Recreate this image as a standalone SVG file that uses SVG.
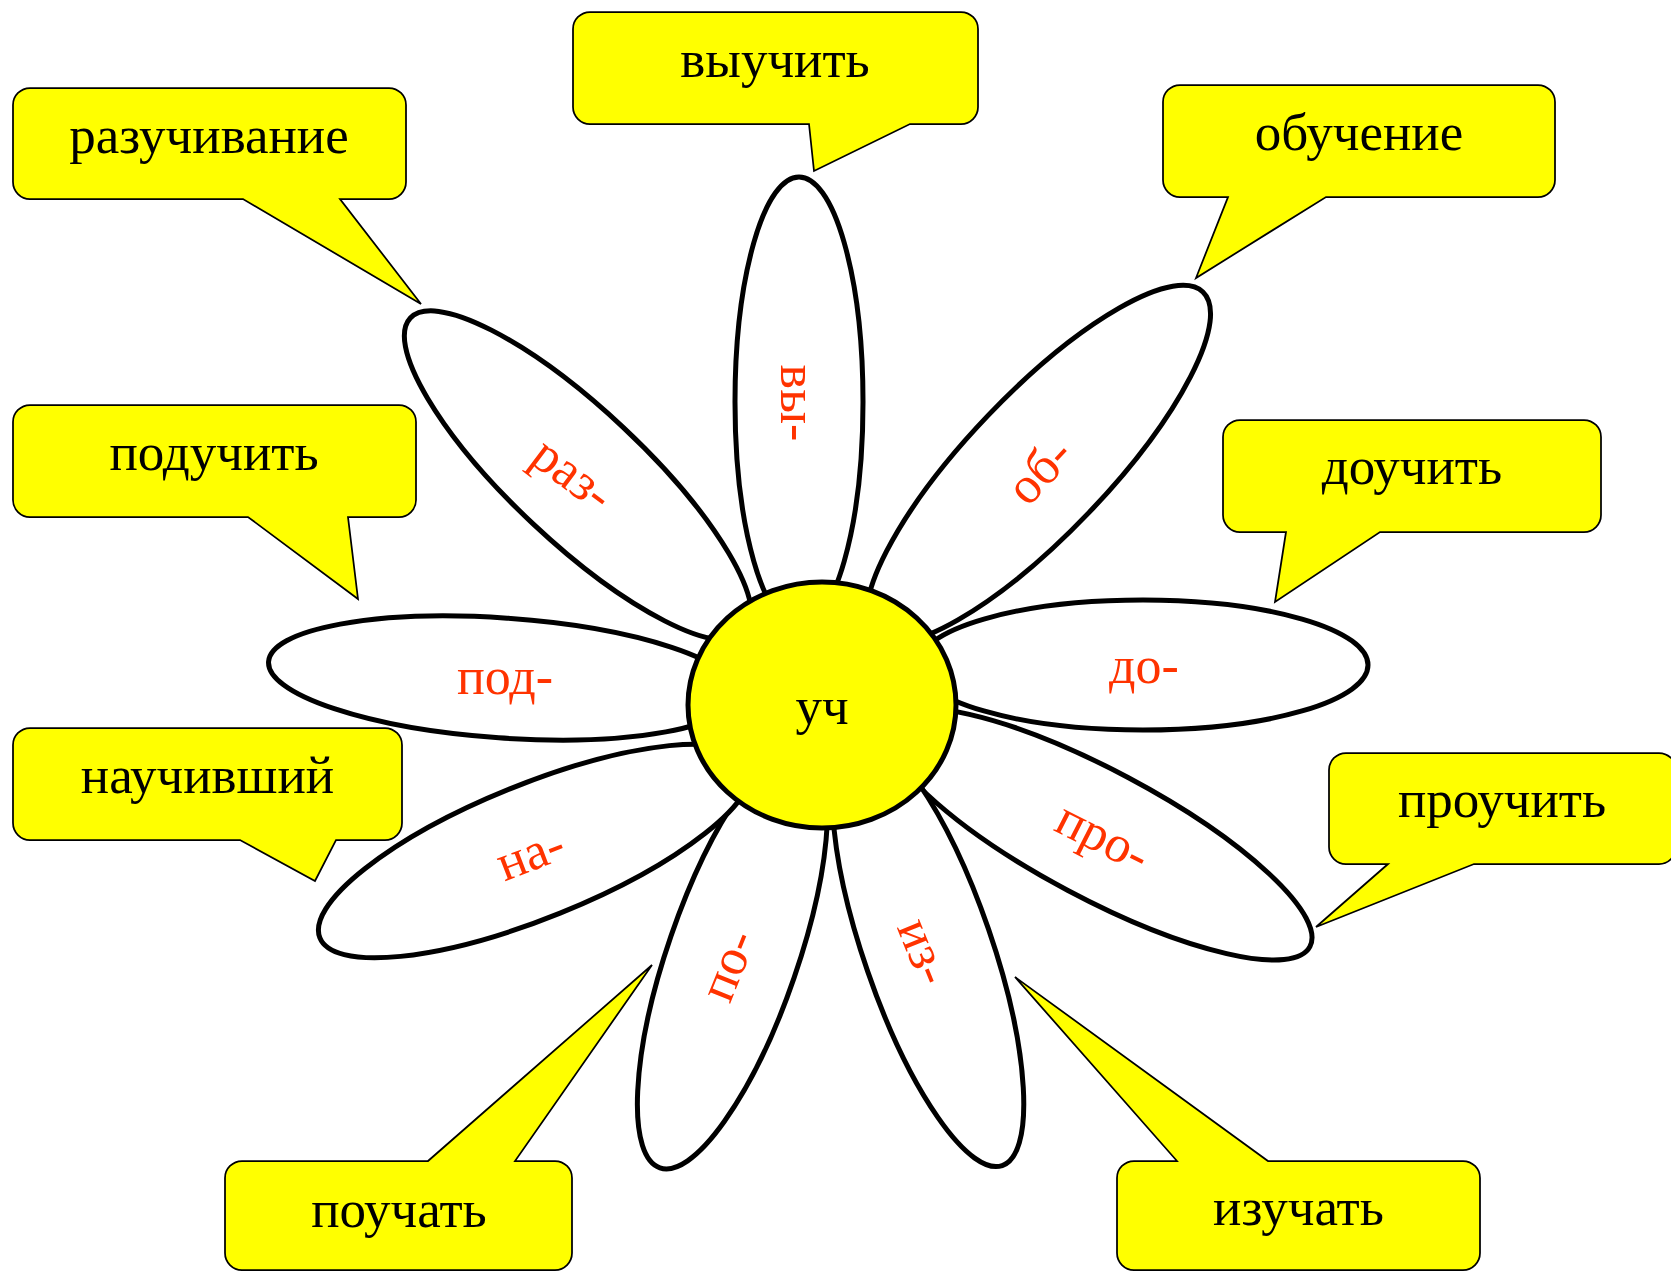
<svg xmlns="http://www.w3.org/2000/svg" width="1671" height="1272" viewBox="0 0 1671 1272">
<style>
.petal{fill:#ffffff;stroke:#000000;stroke-width:5}
.core{fill:#ffff00;stroke:#000000;stroke-width:5}
.callout{fill:#ffff00;stroke:#000000;stroke-width:1.75;stroke-linejoin:miter}
.lbl{font-family:"Liberation Serif","Times New Roman",serif;font-size:53px;fill:#000000;text-anchor:middle}
.pre{font-family:"Liberation Serif","Times New Roman",serif;font-size:52px;fill:#ff3300;text-anchor:middle}
</style>
<rect width="1671" height="1272" fill="#ffffff"/>
<g id="petals">
<g id="petal-raz"><ellipse class="petal" cx="578" cy="475.5" rx="230" ry="66" transform="rotate(43.2 578 475.5)"/><text class="pre" transform="translate(570,478) rotate(37)" y="12">раз-</text></g>
<g id="petal-vy"><ellipse class="petal" cx="799" cy="402" rx="64" ry="225"/><text class="pre" transform="translate(793,403) rotate(90)" y="12">вы-</text></g>
<g id="petal-ob"><ellipse class="petal" cx="1038.5" cy="464" rx="238" ry="70" transform="rotate(-46.3 1038.5 464)"/><text class="pre" transform="translate(1043,474) rotate(-47)" y="12">об-</text></g>
<g id="petal-do"><ellipse class="petal" cx="1143" cy="665" rx="225" ry="65"/><text class="pre" x="1144" y="683">до-</text></g>
<g id="petal-pro"><ellipse class="petal" cx="1098" cy="834" rx="240" ry="64" transform="rotate(28 1098 834)"/><text class="pre" transform="translate(1101,841) rotate(27)" y="12">про-</text></g>
<g id="petal-iz"><ellipse class="petal" cx="928" cy="950" rx="228" ry="64" transform="rotate(71 928 950)"/><text class="pre" transform="translate(920,953) rotate(68)" y="12">из-</text></g>
<g id="petal-po"><ellipse class="petal" cx="732.5" cy="957" rx="223" ry="65" transform="rotate(-71 732.5 957)"/><text class="pre" transform="translate(732,967) rotate(-68)" y="12">по-</text></g>
<g id="petal-na"><ellipse class="petal" cx="535" cy="851" rx="232" ry="67" transform="rotate(-22 535 851)"/><text class="pre" transform="translate(532,858) rotate(-21)" y="12">на-</text></g>
<g id="petal-pod"><ellipse class="petal" cx="503" cy="678" rx="235" ry="60" transform="rotate(4 503 678)"/><text class="pre" x="505" y="694">под-</text></g>
</g>
<g id="core"><ellipse class="core" cx="822" cy="705" rx="134" ry="123"/><text class="lbl" x="822" y="724">уч</text></g>
<g id="connectors"></g>
<g id="callout-razuchivanie"><path class="callout" d="M30,88 H389 A17,17 0 0 1 406,105 V182 A17,17 0 0 1 389,199 H340 L421,304 L243,199 H30 A17,17 0 0 1 13,182 V105 A17,17 0 0 1 30,88 Z"/><text class="lbl" x="209" y="153">разучивание</text></g>
<g id="callout-vyuchit"><path class="callout" d="M590,12 H961 A17,17 0 0 1 978,29 V107 A17,17 0 0 1 961,124 H910 L814,171 L809,124 H590 A17,17 0 0 1 573,107 V29 A17,17 0 0 1 590,12 Z"/><text class="lbl" x="775" y="77">выучить</text></g>
<g id="callout-obuchenie"><path class="callout" d="M1180,85 H1538 A17,17 0 0 1 1555,102 V180 A17,17 0 0 1 1538,197 H1326 L1196,278 L1228,197 H1180 A17,17 0 0 1 1163,180 V102 A17,17 0 0 1 1180,85 Z"/><text class="lbl" x="1359" y="150">обучение</text></g>
<g id="callout-poduchit"><path class="callout" d="M30,405 H399 A17,17 0 0 1 416,422 V500 A17,17 0 0 1 399,517 H348 L358,599 L248,517 H30 A17,17 0 0 1 13,500 V422 A17,17 0 0 1 30,405 Z"/><text class="lbl" x="214" y="470">подучить</text></g>
<g id="callout-douchit"><path class="callout" d="M1240,420 H1584 A17,17 0 0 1 1601,437 V515 A17,17 0 0 1 1584,532 H1380 L1275,602 L1286,532 H1240 A17,17 0 0 1 1223,515 V437 A17,17 0 0 1 1240,420 Z"/><text class="lbl" x="1412" y="484">доучить</text></g>
<g id="callout-nauchivshiy"><path class="callout" d="M30,728 H385 A17,17 0 0 1 402,745 V823 A17,17 0 0 1 385,840 H336 L315,881 L240,840 H30 A17,17 0 0 1 13,823 V745 A17,17 0 0 1 30,728 Z"/><text class="lbl" x="207.5" y="793">научивший</text></g>
<g id="callout-prouchit"><path class="callout" d="M1346,753 H1659 A17,17 0 0 1 1676,770 V847 A17,17 0 0 1 1659,864 H1474 L1316,927 L1388,864 H1346 A17,17 0 0 1 1329,847 V770 A17,17 0 0 1 1346,753 Z"/><text class="lbl" x="1502" y="817">проучить</text></g>
<g id="callout-pouchat"><path class="callout" d="M242,1161 H428 L652,965 L515,1161 H555 A17,17 0 0 1 572,1178 V1253 A17,17 0 0 1 555,1270 H242 A17,17 0 0 1 225,1253 V1178 A17,17 0 0 1 242,1161 Z"/><text class="lbl" x="399" y="1227">поучать</text></g>
<g id="callout-izuchat"><path class="callout" d="M1134,1161 H1177 L1015,977 L1268,1161 H1463 A17,17 0 0 1 1480,1178 V1253 A17,17 0 0 1 1463,1270 H1134 A17,17 0 0 1 1117,1253 V1178 A17,17 0 0 1 1134,1161 Z"/><text class="lbl" x="1298.5" y="1225">изучать</text></g>
</svg>
